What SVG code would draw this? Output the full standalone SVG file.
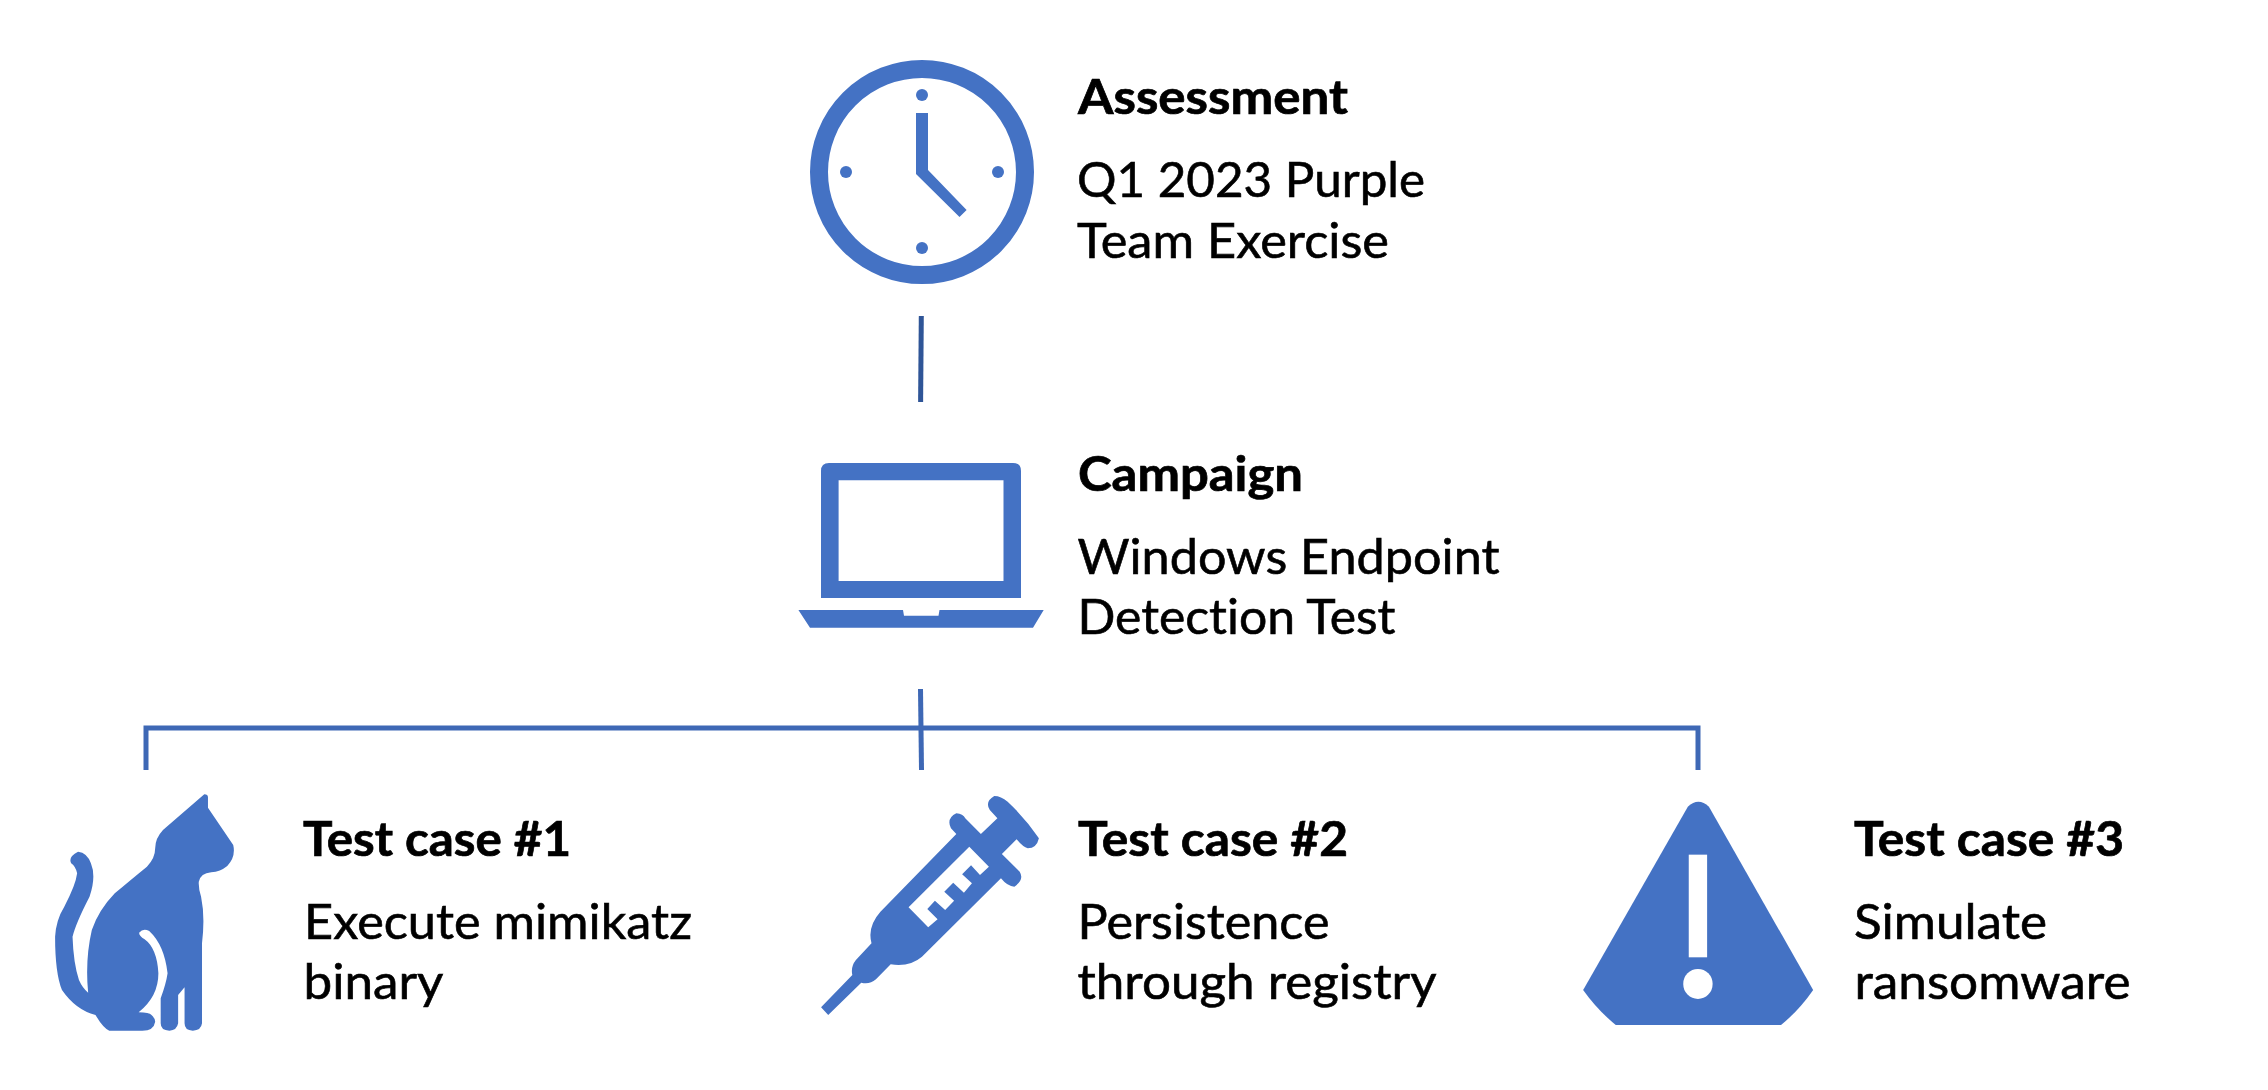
<svg xmlns="http://www.w3.org/2000/svg" width="2268" height="1090" viewBox="0 0 2268 1090">
<style>
.ic{fill:#4472c4}
.w{fill:#fff}
.t{font-family:"Lato","Carlito","Liberation Sans",sans-serif;fill:#000;stroke:#000;font-variant-ligatures:none}
.h{font-size:48px;font-weight:700;stroke-width:.7px}
.b{font-size:48px;font-weight:400;stroke-width:.6px}
.c{fill:none;stroke:#3e68b5;stroke-width:5}
</style>
<rect width="2268" height="1090" fill="#fff"/>
<g id="connectors">
<path class="c" style="stroke:#2f5597" d="M921.3 316L920.6 402"/>
<path class="c" d="M920.5 689L921.5 770"/>
<path class="c" d="M146 770V728H1698V770"/>
</g>
<g id="node-assessment">
<circle cx="922" cy="172" r="103" fill="none" stroke="#4472c4" stroke-width="18"/>
<circle class="ic" cx="922" cy="95" r="6"/><circle class="ic" cx="922" cy="248" r="6"/>
<circle class="ic" cx="846" cy="172" r="6"/><circle class="ic" cx="998" cy="172" r="6"/>
<polygon class="ic" points="916,113 928,113 928,170 966.6,210 959.5,217 916,174"/>
<text class="t h" x="1078" y="114" textLength="270" lengthAdjust="spacingAndGlyphs">Assessment</text>
<text class="t b" x="1077" y="197" textLength="348" lengthAdjust="spacingAndGlyphs">Q1 2023 Purple</text>
<text class="t b" x="1077" y="258" textLength="312" lengthAdjust="spacingAndGlyphs">Team Exercise</text>
</g>
<g id="node-campaign">
<path class="ic" fill-rule="evenodd" d="M829 463H1013Q1021 463 1021 471V598H821V471Q821 463 829 463ZM838.6 480.3V581H1003.5V480.3Z"/>
<path class="ic" d="M798.4 610H903L904 615.7H938.5L939.5 610H1043.7L1033 627.7H810Z"/>
<text class="t h" x="1078" y="491" textLength="225" lengthAdjust="spacingAndGlyphs">Campaign</text>
<text class="t b" x="1077.5" y="574" textLength="422" lengthAdjust="spacingAndGlyphs">Windows Endpoint</text>
<text class="t b" x="1077.5" y="634" textLength="318" lengthAdjust="spacingAndGlyphs">Detection Test</text>
</g>
<g id="node-test-case-1">
<g transform="translate(0 760) scale(0.4591 0.3333)">
<path class="ic" d="M445 103Q453 103 453 112V143L508 255Q514 290 495 318Q480 335 460 337Q437 340 433 365Q432 385 438 410Q447 470 440 550V790Q438 812 420 812Q402 812 402 790V682L388 705V790Q385 812 369 812Q350 812 350 790V715Q362 670 365 640Q358 555 325 513Q312 503 303 518Q303 528 315 538Q342 565 345 640Q345 710 302 757Q325 757 330 765Q338 775 338 785Q335 812 310 812H238Q225 805 208 765Q165 750 135 690Q120 640 120 530Q122 480 140 440Q165 375 168 340Q165 320 155 310Q148 290 170 275Q190 278 198 310Q210 350 195 410Q165 490 158 530Q160 610 172 660Q180 685 192 698Q185 600 200 510Q215 450 250 400Q280 365 320 320Q338 295 338 265Q338 235 355 210Z"/>
</g>
<text class="t h" x="303" y="856" textLength="268" lengthAdjust="spacingAndGlyphs">Test case #1</text>
<text class="t b" x="304" y="939" textLength="388" lengthAdjust="spacingAndGlyphs">Execute mimikatz</text>
<text class="t b" x="303.5" y="999" textLength="140" lengthAdjust="spacingAndGlyphs">binary</text>
</g>
<g id="node-test-case-2">
<g transform="translate(780 760) scale(0.4464 0.3333)">
<path class="ic" d="M92 742L162 645Q158 620 170 600L205 550Q195 500 225 455L395 222L383 205Q372 175 395 160Q410 162 415 175L450 222L487 175L470 150Q458 125 480 108Q495 108 510 125Q550 175 580 235Q575 265 555 265Q545 262 530 238L497 282L537 335Q548 360 525 380Q510 380 495 355L318 590Q290 622 248 613L215 658Q200 675 182 668L108 765Z"/>
<polygon class="w" points="424,260 468,320 448,345 428,316 408,343 430,370 412,398 388,368 368,395 390,422 370,450 347,422 330,447 353,478 332,502 288,442"/>
</g>
<text class="t h" x="1078" y="856" textLength="270" lengthAdjust="spacingAndGlyphs">Test case #2</text>
<text class="t b" x="1077.5" y="939" textLength="252" lengthAdjust="spacingAndGlyphs">Persistence</text>
<text class="t b" x="1077.5" y="999" textLength="359" lengthAdjust="spacingAndGlyphs">through registry</text>
</g>
<g id="node-test-case-3">
<g transform="translate(1540 760) scale(0.4591 0.3333)">
<path class="ic" d="M322 140Q345 110 368 140L595 690Q565 750 525 795H165Q125 750 94 690Z"/>
<rect class="w" x="324" y="284" width="40" height="308"/>
<ellipse class="w" cx="344" cy="672" rx="32" ry="45"/>
</g>
<text class="t h" x="1854" y="856" textLength="270" lengthAdjust="spacingAndGlyphs">Test case #3</text>
<text class="t b" x="1854" y="939" textLength="193" lengthAdjust="spacingAndGlyphs">Simulate</text>
<text class="t b" x="1854.5" y="999" textLength="276" lengthAdjust="spacingAndGlyphs">ransomware</text>
</g>
</svg>
